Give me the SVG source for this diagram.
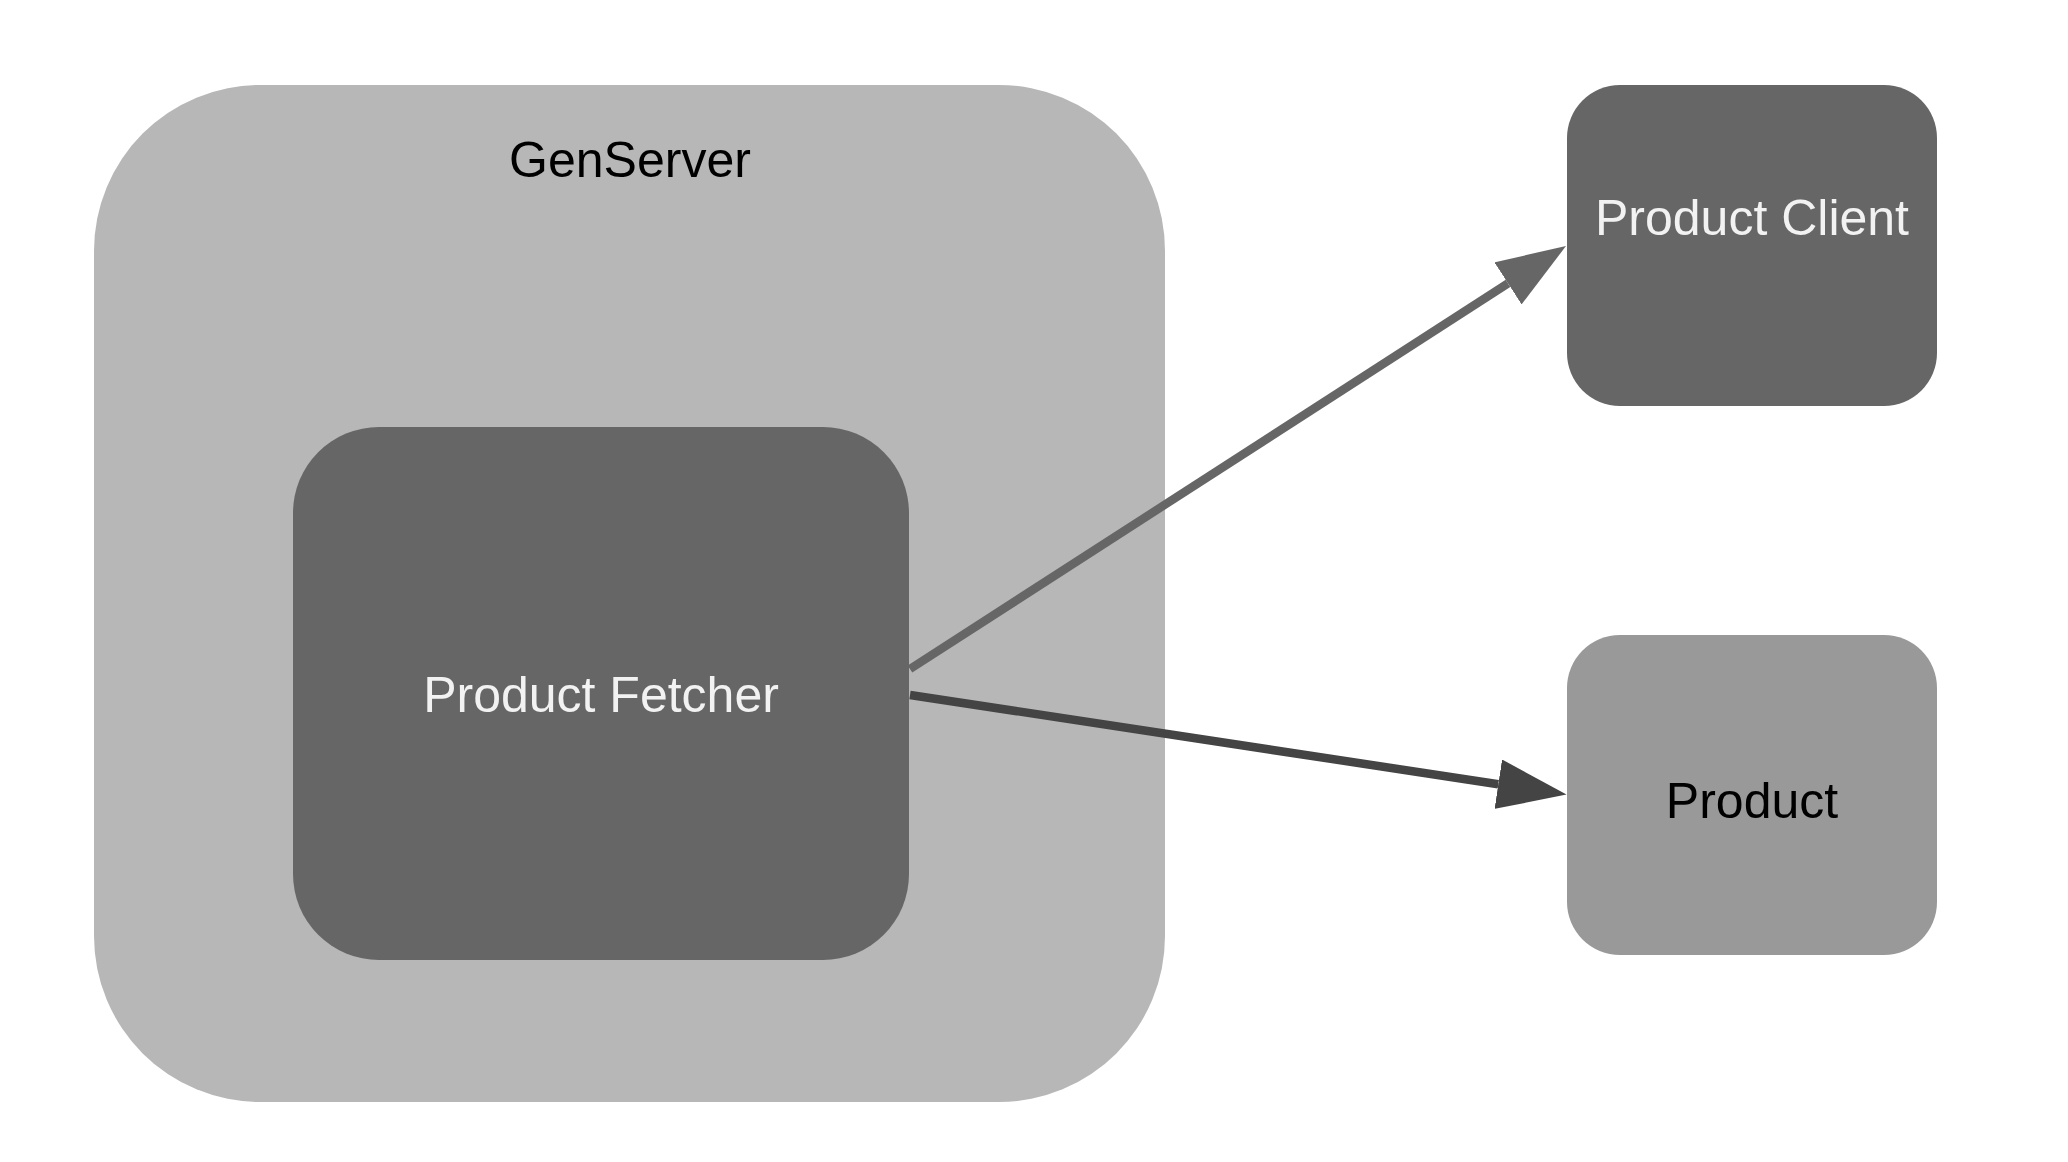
<svg xmlns="http://www.w3.org/2000/svg" width="2068" height="1162" viewBox="0 0 2068 1162">
  <style>
    .lbl { font-family: "Liberation Sans", Arial, sans-serif; font-size: 50px; text-anchor: middle; }
    .light { fill: #f2f2f2; }
    .dark { fill: #000000; }
    .edge { fill: none; stroke-width: 8.5; }
  </style>
  <defs>
    <marker id="arrGray" markerUnits="userSpaceOnUse" markerWidth="70" markerHeight="50" refX="0" refY="25" orient="auto" viewBox="0 0 70 50">
      <path d="M0,0 L69,25 L0,50 z" fill="#666666"/>
    </marker>
    <marker id="arrDark" markerUnits="userSpaceOnUse" markerWidth="70" markerHeight="50" refX="0" refY="25" orient="auto" viewBox="0 0 70 50">
      <path d="M0,0 L69,25 L0,50 z" fill="#444444"/>
    </marker>
  </defs>
  <rect width="2068" height="1162" fill="#ffffff"/>
  <g id="genserver">
    <rect x="94" y="85" width="1071" height="1017" rx="166" ry="166" fill="#b7b7b7"/>
    <text class="lbl dark" x="630" y="177">GenServer</text>
  </g>
  <g id="product-fetcher">
    <rect x="293" y="427" width="616" height="533" rx="86" ry="86" fill="#666666"/>
    <text class="lbl light" x="601" y="712">Product Fetcher</text>
  </g>
  <g id="product-client">
    <rect x="1567" y="85" width="370" height="321" rx="53" ry="53" fill="#666666"/>
    <text class="lbl light" x="1752" y="235">Product Client</text>
  </g>
  <g id="product">
    <rect x="1567" y="635" width="370" height="320" rx="53" ry="53" fill="#999999"/>
    <text class="lbl dark" x="1752" y="818">Product</text>
  </g>
  <g id="connectors">
    <path class="edge" d="M910,669 L1508,283.4" stroke="#666666" marker-end="url(#arrGray)"/>
    <path class="edge" d="M910,695 L1498.3,784.2" stroke="#444444" marker-end="url(#arrDark)"/>
  </g>
</svg>
